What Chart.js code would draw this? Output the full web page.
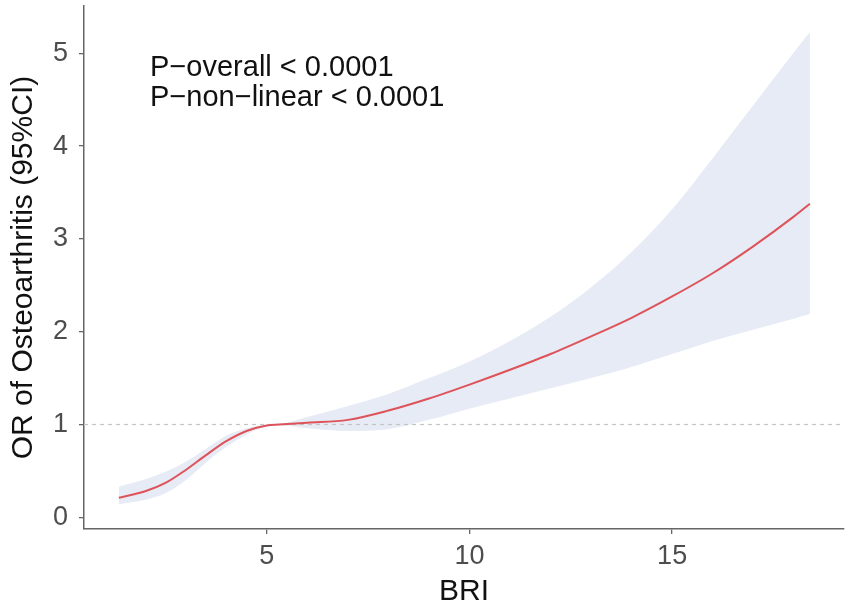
<!DOCTYPE html>
<html>
<head>
<meta charset="utf-8">
<script src="https://cdn.jsdelivr.net/npm/chart.js@4.4.1/dist/chart.umd.min.js"></script>
<style>
  html, body { margin: 0; padding: 0; background: #fff; }
  #wrap { width: 851px; height: 609px; position: relative; }
</style>
</head>
<body>
<div id="wrap"><canvas id="rcs"></canvas></div>
<script>
// BRI values along the fitted spline
const bri = [1.35, 2, 2.5, 3, 3.5, 4, 4.5, 5, 5.3, 6, 7, 8, 9, 10, 11, 12, 13, 14, 15, 16, 17, 18, 18.4];
// odds ratio and 95% CI
const orValues = [0.21, 0.28, 0.37, 0.51, 0.67, 0.82, 0.93, 0.99, 1.00, 1.02, 1.05, 1.15, 1.28, 1.43, 1.59, 1.76, 1.95, 2.15, 2.38, 2.63, 2.92, 3.24, 3.38];
const upperCI = [0.33, 0.41, 0.49, 0.60, 0.74, 0.88, 0.96, 1.00, 1.005, 1.08, 1.20, 1.33, 1.50, 1.68, 1.90, 2.16, 2.48, 2.86, 3.32, 3.87, 4.44, 5.01, 5.23];
const lowerCI = [0.14, 0.19, 0.26, 0.40, 0.59, 0.76, 0.89, 0.98, 0.995, 0.96, 0.93, 0.95, 1.05, 1.17, 1.28, 1.39, 1.50, 1.62, 1.76, 1.90, 2.02, 2.14, 2.19];
const xTicks = [5, 10, 15];
const yTicks = [0, 1, 2, 3, 4, 5];
const refOR = 1;
const pTexts = ["P\u2212overall < 0.0001", "P\u2212non\u2212linear < 0.0001"];

const xMin = 0.49, xMax = 19.24;
const yMin = -0.126, yMax = 5.51;

const toPts = (ys) => bri.map((x, i) => ({ x: x, y: ys[i] }));

//text in the top left corner
const pValuePlugin = {
    id: "pvalues",
    afterDatasetsDraw(chart) {
        const ctx = chart.ctx;
        const x = chart.scales.x.getPixelForValue(2.12);
        const y = chart.scales.y.getPixelForValue(4.76);
        ctx.save();
        ctx.fillStyle = "#111";
        ctx.font = "29px 'Liberation Sans', Arial, sans-serif";
        ctx.textBaseline = "alphabetic";
        pTexts.forEach((t, i) => ctx.fillText(t, x, y + i * 30));
        ctx.restore();
    },
};

new Chart(document.getElementById("rcs"), {
    type: "line",
    plugins: [pValuePlugin],
    data: {
        datasets: [
            {
                data: toPts(orValues),
                borderColor: "#DE5359",
                borderWidth: 2,
                pointRadius: 0,
                fill: false,
                cubicInterpolationMode: "monotone",
            },
            {
                // reference line OR = 1
                data: [{ x: xMin, y: refOR }, { x: xMax, y: refOR }],
                borderColor: "#C4C4C4",
                borderWidth: 1.2,
                borderDash: [4, 4],
                pointRadius: 0,
                fill: false,
            },
            {
                // upper CI, filled down to lower CI
                data: toPts(upperCI),
                borderWidth: 0,
                pointRadius: 0,
                backgroundColor: "#E6EBF5",
                fill: "+1",
                cubicInterpolationMode: "monotone",
            },
            {
                data: toPts(lowerCI),
                borderWidth: 0,
                pointRadius: 0,
                fill: false,
                cubicInterpolationMode: "monotone",
            },
        ],
    },
    options: {
        responsive: true,
        maintainAspectRatio: false,
        animation: false,
        layout: { padding: { top: 6, right: 7, left: 0, bottom: 0 } },
        plugins: {
            legend: { display: false },
            tooltip: { enabled: false },
            filler: { drawTime: "beforeDatasetsDraw" },
        },
        scales: {
            x: {
                type: "linear",
                min: xMin,
                max: xMax,
                afterBuildTicks: (s) => { s.ticks = xTicks.map((v) => ({ value: v })); },
                afterFit: (s) => { s.height = 80; },
                grid: { drawOnChartArea: false, drawTicks: true, tickLength: 5, color: "#666", lineWidth: 1.3 },
                border: { display: true, color: "#666", width: 1.5 },
                ticks: {
                    color: "#4D4D4D",
                    padding: 6,
                    font: { size: 27, family: "'Liberation Sans', Arial, sans-serif" },
                },
                title: {
                    display: true,
                    text: "BRI",
                    color: "#111",
                    padding: { top: 0, bottom: 2 },
                    font: { size: 30, lineHeight: 1, family: "'Liberation Sans', Arial, sans-serif" },
                },
            },
            y: {
                type: "linear",
                min: yMin,
                max: yMax,
                afterBuildTicks: (s) => { s.ticks = yTicks.map((v) => ({ value: v })); },
                afterFit: (s) => { s.width = 84; s.paddingTop = 0; s.paddingBottom = 0; },
                grid: { drawOnChartArea: false, drawTicks: true, tickLength: 5, color: "#666", lineWidth: 1.3 },
                border: { display: true, color: "#666", width: 1.5 },
                ticks: {
                    color: "#4D4D4D",
                    padding: 11,
                    font: { size: 27, family: "'Liberation Sans', Arial, sans-serif" },
                },
                title: {
                    display: true,
                    text: "OR of Osteoarthritis (95%CI)",
                    color: "#111",
                    padding: { top: 9, bottom: 0 },
                    font: { size: 30, lineHeight: 1, family: "'Liberation Sans', Arial, sans-serif" },
                },
            },
        },
    },
});
</script>
</body>
</html>
